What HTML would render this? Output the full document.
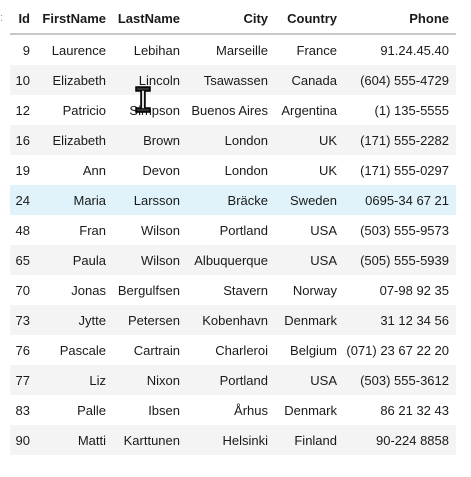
<!DOCTYPE html>
<html><head><meta charset="utf-8"><style>
body{margin:0;width:471px;height:477px;background:#fff;font-family:"Liberation Sans",sans-serif;font-size:13px;color:#1a1a1a;position:relative;overflow:hidden}
table{position:absolute;left:10px;top:4px;border-collapse:collapse;width:446px;table-layout:fixed}
th{font-weight:bold;height:29px;text-align:right;padding:0 7px 0 0;border-bottom:2px solid #c8c8c8;white-space:nowrap}
td{height:30px;text-align:right;padding:0 7px 0 0;white-space:nowrap}
tr.alt td{background:#f4f4f4}
tr.sel td{background:#e0f3fb}
</style></head><body>
<div style="position:absolute;left:0;top:12px;color:#999;font-size:11px">:</div>
<table>
<colgroup><col style="width:27px"><col style="width:76px"><col style="width:74px"><col style="width:88px"><col style="width:69px"><col style="width:112px"></colgroup>
<tr><th>Id</th><th>FirstName</th><th>LastName</th><th>City</th><th>Country</th><th>Phone</th></tr>
<tr><td>9</td><td>Laurence</td><td>Lebihan</td><td>Marseille</td><td>France</td><td>91.24.45.40</td></tr>
<tr class="alt"><td>10</td><td>Elizabeth</td><td>Lincoln</td><td>Tsawassen</td><td>Canada</td><td>(604) 555-4729</td></tr>
<tr><td>12</td><td>Patricio</td><td>Simpson</td><td>Buenos Aires</td><td>Argentina</td><td>(1) 135-5555</td></tr>
<tr class="alt"><td>16</td><td>Elizabeth</td><td>Brown</td><td>London</td><td>UK</td><td>(171) 555-2282</td></tr>
<tr><td>19</td><td>Ann</td><td>Devon</td><td>London</td><td>UK</td><td>(171) 555-0297</td></tr>
<tr class="sel"><td>24</td><td>Maria</td><td>Larsson</td><td>Bräcke</td><td>Sweden</td><td>0695-34 67 21</td></tr>
<tr><td>48</td><td>Fran</td><td>Wilson</td><td>Portland</td><td>USA</td><td>(503) 555-9573</td></tr>
<tr class="alt"><td>65</td><td>Paula</td><td>Wilson</td><td>Albuquerque</td><td>USA</td><td>(505) 555-5939</td></tr>
<tr><td>70</td><td>Jonas</td><td>Bergulfsen</td><td>Stavern</td><td>Norway</td><td>07-98 92 35</td></tr>
<tr class="alt"><td>73</td><td>Jytte</td><td>Petersen</td><td>Kobenhavn</td><td>Denmark</td><td>31 12 34 56</td></tr>
<tr><td>76</td><td>Pascale</td><td>Cartrain</td><td>Charleroi</td><td>Belgium</td><td>(071) 23 67 22 20</td></tr>
<tr class="alt"><td>77</td><td>Liz</td><td>Nixon</td><td>Portland</td><td>USA</td><td>(503) 555-3612</td></tr>
<tr><td>83</td><td>Palle</td><td>Ibsen</td><td>Århus</td><td>Denmark</td><td>86 21 32 43</td></tr>
<tr class="alt"><td>90</td><td>Matti</td><td>Karttunen</td><td>Helsinki</td><td>Finland</td><td>90-224 8858</td></tr>
</table>
<svg style="position:absolute;left:134px;top:86px" width="20" height="28">
<path d="M2 1H16V5H11V22H16V26H2V22H7V5H2Z" fill="#333" stroke="#000" stroke-width="1.5"/>
<path d="M8 5H10V22H8Z" fill="#ddd"/>
</svg>
</body></html>
